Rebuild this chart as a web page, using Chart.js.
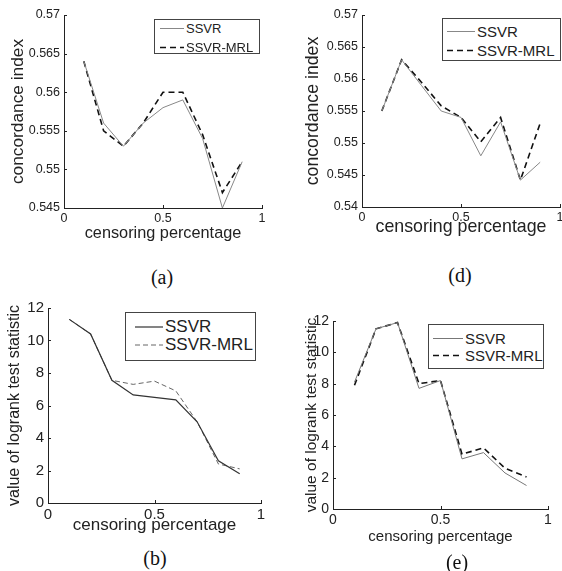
<!DOCTYPE html>
<html lang="en">
<head>
<meta charset="UTF-8">
<title>SSVR vs SSVR-MRL</title>
<script src="https://cdn.jsdelivr.net/npm/chart.js"></script>
<style>
  body { margin: 0; background: #fff; width: 562px; height: 571px; overflow: hidden; position: relative;
         font-family: "Liberation Sans", Arial, sans-serif; }
  canvas.panel { position: absolute; }
  .legend { position: absolute; background: #fff; border: 1px solid #444; box-sizing: border-box; color: #222; }
  .legend .row { position: absolute; display: flex; align-items: center; white-space: nowrap; transform: translateY(-50%); }
  .legend svg { margin-right: 2px; }
  .caption { position: absolute; transform: translate(-50%, -50%); font-family: "Liberation Serif", "Times New Roman", serif;
             font-size: 20px; color: #111; }
</style>
</head>
<body>

<script>
    // censoring percentages used in every experiment
    const censoring = [0.1, 0.2, 0.3, 0.4, 0.5, 0.6, 0.7, 0.8, 0.9];
    const xTicks = [0, 0.5, 1];

    // (a) concordance index, first data set
    const ciSsvrA = [0.564, 0.556, 0.553, 0.556, 0.558, 0.559, 0.554, 0.545, 0.551];
    const ciMrlA  = [0.564, 0.555, 0.553, 0.556, 0.560, 0.560, 0.5545, 0.547, 0.551];
    const yTicksA = [0.545, 0.55, 0.555, 0.56, 0.565, 0.57];

    // (d) concordance index, second data set
    const ciSsvrD = [0.555, 0.563, 0.559, 0.555, 0.554, 0.548, 0.5533, 0.5442, 0.547];
    const ciMrlD  = [0.555, 0.563, 0.5595, 0.5558, 0.554, 0.5502, 0.554, 0.5442, 0.5531];
    const yTicksD = [0.54, 0.545, 0.55, 0.555, 0.56, 0.565, 0.57];

    // (b) logrank statistic, first data set
    const lrSsvrB = [11.3, 10.4, 7.55, 6.65, 6.5, 6.35, 5.0, 2.6, 1.8];
    const lrMrlB  = [11.3, 10.4, 7.55, 7.3, 7.5, 6.9, 5.0, 2.4, 2.1];

    // (e) logrank statistic, second data set
    const lrSsvrE = [8.1, 11.5, 11.9, 7.7, 8.2, 3.2, 3.6, 2.3, 1.5];
    const lrMrlE  = [7.9, 11.5, 11.9, 8.0, 8.2, 3.5, 3.9, 2.6, 2.05];

    const yTicksLr = [0, 2, 4, 6, 8, 10, 12];

    // small matlab-style ticks pointing into the plot
    const inwardTicks = {
        id: 'inwardTicks',
        afterDatasetsDraw(chart) {
            const { ctx, chartArea: a, scales: { x, y } } = chart;
            ctx.save();
            ctx.strokeStyle = '#222';
            ctx.lineWidth = 1;
            ctx.beginPath();
            x.ticks.forEach(t => {
                const px = Math.round(x.getPixelForValue(t.value)) + 0.5;
                ctx.moveTo(px, a.bottom);
                ctx.lineTo(px, a.bottom - 3);
            });
            y.ticks.forEach(t => {
                const py = Math.round(y.getPixelForValue(t.value)) + 0.5;
                ctx.moveTo(a.left, py);
                ctx.lineTo(a.left + 3, py);
            });
            ctx.stroke();
            ctx.restore();
        }
    };

    const panels = [
        {   // (a)
            left: 0, top: 0, width: 281, height: 250,
            yWidth: 64, xHeight: 42, padTop: 15, padRight: 19,
            ssvr: ciSsvrA, mrl: ciMrlA, yTicks: yTicksA, yMin: 0.545, yMax: 0.57,
            yTitle: 'concordance index', tickSize: 12.5, xTitleSize: 16.3, yTitleSize: 17.3,
            xTitlePad: 7.2, yTitlePad: 7.6,
            ssvrStyle: { color: '#888', width: 1, dash: [] },
            mrlStyle: { color: '#111', width: 1.6, dash: [6, 4] },
            legend: { x: 154, y: 19, w: 106, h: 35, font: 13, lineX: 160, lineLen: 24, rows: [28, 47] },
            caption: { text: '(a)', x: 162, y: 277 }
        },
        {   // (d)
            left: 281, top: 0, width: 290, height: 250,
            yWidth: 81, xHeight: 43, padTop: 15, padRight: 11,
            ssvr: ciSsvrD, mrl: ciMrlD, yTicks: yTicksD, yMin: 0.54, yMax: 0.57,
            yTitle: 'concordance index', tickSize: 12.5, xTitleSize: 17.8, yTitleSize: 17.7,
            xTitlePad: 12.3, yTitlePad: 21.4,
            ssvrStyle: { color: '#888', width: 1, dash: [] },
            mrlStyle: { color: '#111', width: 1.6, dash: [6, 4] },
            legend: { x: 442, y: 18, w: 119, h: 43, font: 15, lineX: 447, lineLen: 28, rows: [31, 50] },
            caption: { text: '(d)', x: 460, y: 275 }
        },
        {   // (b)
            left: 0, top: 285, width: 281, height: 260,
            yWidth: 48, xHeight: 42, padTop: 23, padRight: 20,
            ssvr: lrSsvrB, mrl: lrMrlB, yTicks: yTicksLr, yMin: 0, yMax: 12,
            yTitle: 'value of logrank test statistic', tickSize: 15, xTitleSize: 17, yTitleSize: 16,
            xTitlePad: 9.8, yTitlePad: 5.4,
            ssvrStyle: { color: '#333', width: 1.2, dash: [] },
            mrlStyle: { color: '#666', width: 1, dash: [5, 3] },
            legend: { x: 125, y: 312, w: 131, h: 49, font: 17, lineX: 135, lineLen: 28, rows: [327, 345] },
            caption: { text: '(b)', x: 155, y: 558 }
        },
        {   // (e)
            left: 281, top: 285, width: 281, height: 270,
            yWidth: 52, xHeight: 46, padTop: 36, padRight: 14,
            ssvr: lrSsvrE, mrl: lrMrlE, yTicks: yTicksLr, yMin: 0, yMax: 12,
            yTitle: 'value of logrank test statistic', tickSize: 14, xTitleSize: 15, yTitleSize: 15.5,
            xTitlePad: 9, yTitlePad: 21.7,
            ssvrStyle: { color: '#777', width: 1, dash: [] },
            mrlStyle: { color: '#111', width: 1.6, dash: [6, 4] },
            legend: { x: 428, y: 324, w: 116, h: 45, font: 15, lineX: 433, lineLen: 30, rows: [338, 355] },
            caption: { text: '(e)', x: 457, y: 562 }
        }
    ];

    function makeLegend(p) {
        const L = p.legend;
        const box = document.createElement('div');
        box.className = 'legend';
        Object.assign(box.style, { left: L.x + 'px', top: L.y + 'px', width: L.w + 'px', height: L.h + 'px' });
        [['SSVR', p.ssvrStyle], ['SSVR-MRL', p.mrlStyle]].forEach(([label, s], i) => {
            const row = document.createElement('div');
            row.className = 'row';
            row.style.left = (L.lineX - L.x - 1) + 'px';
            row.style.top = (L.rows[i] - L.y - 1) + 'px';
            row.style.fontSize = L.font + 'px';
            row.innerHTML =
                `<svg width="${L.lineLen}" height="4"><line x1="0" y1="2" x2="${L.lineLen}" y2="2" ` +
                `stroke="${s.color}" stroke-width="${s.width}" stroke-dasharray="${s.dash.join(' ')}"/></svg>` +
                `<span>${label}</span>`;
            box.appendChild(row);
        });
        document.body.appendChild(box);
    }

    function makePanel(p) {
        const canvas = document.createElement('canvas');
        canvas.className = 'panel';
        canvas.width = p.width;
        canvas.height = p.height;
        canvas.style.left = p.left + 'px';
        canvas.style.top = p.top + 'px';
        document.body.appendChild(canvas);

        const series = (vals, s, label) => ({
            label,
            data: censoring.map((x, i) => ({ x, y: vals[i] })),
            borderColor: s.color,
            borderWidth: s.width,
            borderDash: s.dash,
            fill: false,
            pointRadius: 0,
            tension: 0,
            clip: false
        });

        const axisFont = (size) => ({ family: '"Liberation Sans", Arial, sans-serif', size });

        new Chart(canvas, {
            type: 'line',
            data: { datasets: [series(p.ssvr, p.ssvrStyle, 'SSVR'), series(p.mrl, p.mrlStyle, 'SSVR-MRL')] },
            options: {
                responsive: false,
                animation: false,
                devicePixelRatio: 1,
                layout: { padding: { top: p.padTop, right: p.padRight, left: 0, bottom: 0 } },
                plugins: { legend: { display: false }, tooltip: { enabled: false } },
                scales: {
                    x: {
                        type: 'linear', min: 0, max: 1,
                        afterBuildTicks: s => { s.ticks = xTicks.map(v => ({ value: v })); },
                        afterFit: s => { s.height = p.xHeight; },
                        grid: { display: false, drawTicks: false },
                        border: { color: '#222', width: 1 },
                        ticks: { font: axisFont(p.tickSize), color: '#222', padding: 3, maxRotation: 0,
                                 autoSkip: false, callback: v => String(v) },
                        title: { display: true, text: 'censoring percentage', color: '#222',
                                 font: axisFont(p.xTitleSize), padding: { top: 0, bottom: p.xTitlePad } }
                    },
                    y: {
                        type: 'linear', min: p.yMin, max: p.yMax,
                        afterBuildTicks: s => { s.ticks = p.yTicks.map(v => ({ value: v })); },
                        afterFit: s => { s.width = p.yWidth; },
                        grid: { display: false, drawTicks: false },
                        border: { color: '#222', width: 1 },
                        ticks: { font: axisFont(p.tickSize), color: '#222', padding: 4,
                                 autoSkip: false, callback: v => String(v) },
                        title: { display: true, text: p.yTitle, color: '#222',
                                 font: axisFont(p.yTitleSize), padding: { top: p.yTitlePad, bottom: 0 } }
                    }
                }
            },
            plugins: [inwardTicks]
        });

        makeLegend(p);

        const cap = document.createElement('div');
        cap.className = 'caption';
        cap.textContent = p.caption.text;
        cap.style.left = p.caption.x + 'px';
        cap.style.top = p.caption.y + 'px';
        document.body.appendChild(cap);
    }

    panels.forEach(makePanel);
</script>

</body>
</html>
